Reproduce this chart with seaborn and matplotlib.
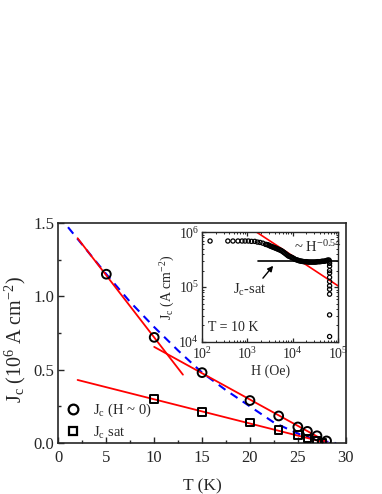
import matplotlib
matplotlib.use('Agg')
import matplotlib.pyplot as plt
from matplotlib.ticker import MultipleLocator, LogLocator, NullFormatter, FormatStrFormatter
import seaborn as sns

# main panel data
T_h0 = [5, 10, 15, 20, 23, 25, 26, 27, 28]
Jc_h0 = [1.15, 0.72, 0.48, 0.29, 0.185, 0.11, 0.08, 0.05, 0.015]
T_sat = [10, 15, 20, 23, 25, 26, 27, 27.5]
Jc_sat = [0.30, 0.21, 0.14, 0.09, 0.055, 0.032, 0.014, 0.005]

# fit lines
fit1_T = [2, 13]
fit1_J = [1.395, 0.466]
fit2_T = [10, 28]
fit2_J = [0.655, 0.01]
fit3_T = [2, 27.8]
fit3_J = [0.43, 0.005]
dash_T = [1, 3, 5, 7.5, 10, 12.5, 15, 17.5, 20, 22.5, 25, 27, 29]
dash_J = [1.47, 1.31, 1.15, 0.96, 0.79, 0.63, 0.48, 0.36, 0.25, 0.14, 0.065, 0.02, 0.0]

# inset data, T = 10 K
H_in = [150, 370, 480, 620, 760, 890, 1050, 1230, 1450, 1660, 1900, 2190,
        2510, 2660, 2820, 2990, 3160, 3350, 3550, 3760, 3980, 4220, 4470, 4730,
        5010, 5310, 5620, 5960, 6310, 6680, 7080, 7500, 7940, 8410, 8910, 9440,
        10000, 10600, 11200, 11900, 12600, 13300, 14100, 15000, 15800, 16800,
        17800, 18800, 20000, 21100, 22400, 23700, 25100, 26600, 28200, 29900,
        31600, 33500, 35500, 37600, 39800, 42200, 44700, 47300, 50100, 53100,
        56200, 59600, 63100, 64500,
        65000, 65000, 65000, 65000, 65000, 65000, 65000, 65000, 65000, 65000, 65000]
Jc_in = [6.9e5, 6.9e5, 6.9e5, 6.9e5, 6.9e5, 6.9e5, 6.9e5, 6.8e5, 6.8e5, 6.6e5, 6.5e5, 6.3e5,
         6.0e5, 5.95e5, 5.9e5, 5.75e5, 5.6e5, 5.5e5, 5.4e5, 5.3e5, 5.2e5, 5.1e5, 5.0e5, 4.9e5,
         4.8e5, 4.7e5, 4.6e5, 4.45e5, 4.3e5, 4.15e5, 4.0e5, 3.85e5, 3.7e5, 3.62e5, 3.55e5, 3.47e5,
         3.4e5, 3.3e5, 3.2e5, 3.15e5, 3.1e5, 3.05e5, 3.0e5, 2.97e5, 2.95e5, 2.92e5,
         2.9e5, 2.9e5, 2.9e5, 2.87e5, 2.85e5, 2.85e5, 2.85e5, 2.85e5, 2.85e5, 2.85e5,
         2.85e5, 2.87e5, 2.9e5, 2.9e5, 2.9e5, 2.92e5, 2.95e5, 2.95e5, 2.95e5, 3.0e5,
         3.05e5, 3.1e5, 3.1e5, 2.95e5,
         2.7e5, 2.4e5, 2.0e5, 1.8e5, 1.5e5, 1.26e5, 1.05e5, 9.1e4, 7.4e4, 3.1e4, 1.25e4]
pow_H = [1600, 1e5]
pow_J = [1e6, 1.05e5]
sat_H = [1740, 1e5]
sat_J = [2.93e5, 2.93e5]

sns.set_style('ticks')
plt.rcParams['font.family'] = ['Liberation Serif', 'DejaVu Serif']
plt.rcParams['mathtext.fontset'] = 'custom'
plt.rcParams['mathtext.rm'] = 'Liberation Serif'
plt.rcParams['mathtext.it'] = 'Liberation Serif:italic'
plt.rcParams['xtick.direction'] = 'in'
plt.rcParams['ytick.direction'] = 'in'

fig = plt.figure(figsize=(3.82, 4.94), dpi=100)
ax = fig.add_axes([0.153, 0.103, 0.752, 0.446])

sns.lineplot(x=dash_T, y=dash_J, ax=ax, color='blue', lw=1.5, ls=(0, (4, 3)), sort=False)
for xs, ys in [(fit1_T, fit1_J), (fit2_T, fit2_J), (fit3_T, fit3_J)]:
    sns.lineplot(x=xs, y=ys, ax=ax, color='red', lw=1.3, sort=False)
sns.scatterplot(x=T_h0, y=Jc_h0, ax=ax, marker='o', s=40, facecolor='none',
                edgecolor='black', linewidth=1.4, zorder=5)
sns.scatterplot(x=T_sat, y=Jc_sat, ax=ax, marker='s', s=30, facecolor='none',
                edgecolor='black', linewidth=1.4, zorder=5)

ax.set_xlim(0, 30)
ax.set_ylim(0, 1.5)
ax.xaxis.set_major_locator(MultipleLocator(5))
ax.xaxis.set_minor_locator(MultipleLocator(2.5))
ax.yaxis.set_major_locator(MultipleLocator(0.5))
ax.yaxis.set_minor_locator(MultipleLocator(0.25))
ax.yaxis.set_major_formatter(FormatStrFormatter('%.1f'))
ax.tick_params(which='major', length=4, width=1, labelsize=12, pad=3)
ax.tick_params(axis='x', pad=5)
ax.tick_params(which='minor', length=2, width=1)
for s in ax.spines.values():
    s.set_linewidth(1.2)
ax.set_xlabel('T (K)', fontsize=12.5, labelpad=9)
ax.set_ylabel(r'J$_\mathrm{c}$ (10$^6$ A cm$^{-2}$)', fontsize=14.5)
ax.yaxis.set_label_coords(-0.105, 0.47)

h1 = plt.Line2D([], [], marker='o', ls='none', mfc='none', mec='black', mew=1.6, ms=7)
h2 = plt.Line2D([], [], marker='s', ls='none', mfc='none', mec='black', mew=1.6, ms=6)
ax.legend([h1, h2], [r'J$_\mathrm{c}$ (H ~ 0)', r'J$_\mathrm{c}$ sat'], loc='lower left',
          frameon=False, fontsize=10.5, handletextpad=0.8, borderaxespad=0.0,
          labelspacing=0.35, handlelength=1.2, bbox_to_anchor=(0.0, -0.015))

# inset
ins = fig.add_axes([0.529, 0.308, 0.356, 0.222])
sns.lineplot(x=pow_H, y=pow_J, ax=ins, color='red', lw=1.2, sort=False)
sns.lineplot(x=sat_H, y=sat_J, ax=ins, color='black', lw=1.2, sort=False)
sns.scatterplot(x=H_in, y=Jc_in, ax=ins, marker='o', s=9, facecolor='none',
                edgecolor='black', linewidth=0.9, zorder=5)
ins.set_xscale('log')
ins.set_yscale('log')
ins.set_xlim(1e2, 1e5)
ins.set_ylim(1e4, 1e6)
ins.xaxis.set_major_locator(LogLocator(base=10, numticks=10))
ins.yaxis.set_major_locator(LogLocator(base=10, numticks=10))
ins.xaxis.set_minor_locator(LogLocator(base=10, subs=range(2, 10), numticks=20))
ins.yaxis.set_minor_locator(LogLocator(base=10, subs=range(2, 10), numticks=20))
ins.xaxis.set_minor_formatter(NullFormatter())
ins.yaxis.set_minor_formatter(NullFormatter())
ins.tick_params(which='both', top=True, right=True)
ins.tick_params(which='major', length=3, width=0.9, labelsize=10, pad=2)
ins.tick_params(axis='x', pad=3)
ins.tick_params(which='minor', length=1.6, width=0.7)
for s in ins.spines.values():
    s.set_linewidth(1.0)
ins.set_xlabel('H (Oe)', fontsize=10, labelpad=2)
ins.set_ylabel(r'J$_\mathrm{c}$ (A cm$^{-2}$)', fontsize=10, labelpad=1)
ins.text(1.35e2, 1.6e4, 'T = 10 K', fontsize=10)
ins.text(1.05e4, 5.3e5, r'~ H$^{-0.54}$', fontsize=10.5, va='center')
ins.text(1.15e3, 8.9e4, r'J$_\mathrm{c}$-sat', fontsize=10.5, ha='center', va='center')
ins.annotate('', xy=(3.7e3, 2.44e5), xytext=(2.2e3, 1.45e5),
             arrowprops=dict(arrowstyle='-|>', color='black', lw=1.0,
                             mutation_scale=8, shrinkA=0, shrinkB=0))

fig.savefig('out.png', dpi=100)
